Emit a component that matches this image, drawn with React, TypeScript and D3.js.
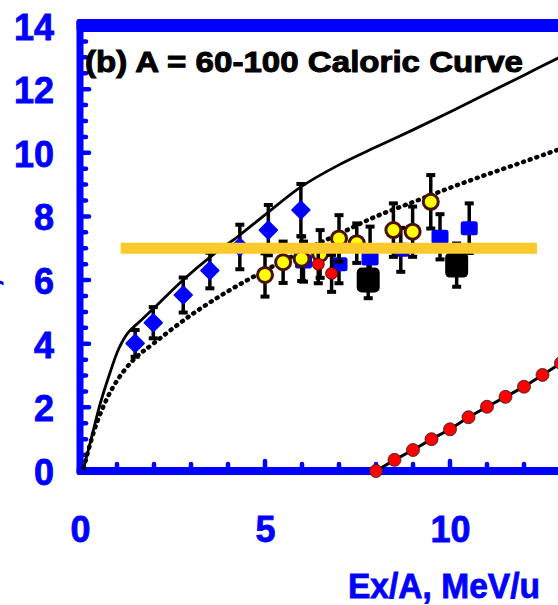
import React from 'react';
import * as d3 from 'd3';

// ---------- data ----------
const yTickValues = [0, 2, 4, 6, 8, 10, 12, 14];
const xTickValues = [0, 5, 10];
const titleText = '(b)  A = 60-100 Caloric Curve';
const xAxisTitle = 'Ex/A, MeV/u';
const yAxisTitle = 'T, MeV';

// solid model curve
const solidX = [0.1, 0.3, 0.55, 0.8, 1.05, 1.3, 1.6, 2, 2.8, 3.6, 4.3, 5, 6, 7, 8, 9, 10, 11, 12, 13];
const solidY = [0.1, 1.0, 2.13, 3.05, 3.85, 4.35, 4.68, 5.12, 6.02, 6.8, 7.4, 8.05, 8.95, 9.62, 10.18, 10.72, 11.28, 11.86, 12.44, 13.02];

// dotted model curve
const dottedX = [0.1, 0.45, 0.9, 1.44, 2, 3, 4, 5, 6, 7, 8, 9, 10, 11, 12, 13];
const dottedY = [0.1, 1.5, 2.65, 3.49, 4.02, 4.9, 5.65, 6.3, 6.9, 7.45, 8.0, 8.45, 8.9, 9.32, 9.72, 10.13];

// red points on a line
const redLineX = [8, 8.5, 9, 9.5, 10, 10.5, 11, 11.5, 12, 12.5, 13];
const redLineY = [0, 0.35, 0.66, 1.0, 1.31, 1.69, 2.02, 2.33, 2.65, 3.02, 3.39];

// blue diamonds
const diamondX = [1.49, 1.98, 2.79, 3.51, 4.32, 5.09, 5.97];
const diamondY = [4.01, 4.66, 5.53, 6.3, 7.04, 7.57, 8.2];
const diamondErr = [0.42, 0.49, 0.55, 0.56, 0.7, 0.79, 0.82];

// yellow circles
const yellowX = [5.0, 5.49, 5.99, 6.49, 7.0, 7.48, 8.47, 8.99, 9.48];
const yellowY = [6.16, 6.56, 6.67, 6.82, 7.31, 7.16, 7.57, 7.52, 8.46];
const yellowErr = [0.68, 0.65, 0.7, 0.75, 0.73, 0.62, 0.84, 0.79, 0.84];

// blue squares
const blueSqX = [6.04, 7.0, 7.84, 8.67, 9.73, 10.52];
const blueSqY = [6.58, 6.5, 6.68, 6.95, 7.36, 7.63];
const blueSqErr = [0.63, 0.6, 1.0, 0.69, 0.71, 0.78];

// black squares
const blackSqX = [7.79, 10.18];
const blackSqY = [6.0, 6.47];
const blackSqErr = [0.57, 0.68];

// red points with error bars
const redPtX = [6.44, 6.8];
const redPtY = [6.5, 6.21];
const redPtErr = [0.6, 0.58];

// horizontal band
const bandX = [1.1, 12.35];
const bandY = [7, 7];

// ---------- chart ----------
const W = 558;
const H = 605;
const FONT = 'Liberation Sans, Arial, Helvetica, sans-serif';
const BLUE = '#0000FF';

export default function App() {
  const x = d3.scaleLinear().domain([0, 13]).range([80, 561]);
  const y = d3.scaleLinear().domain([0, 14]).range([471, 25.5]);

  const line = d3
    .line<[number, number]>()
    .x((d) => x(d[0]))
    .y((d) => y(d[1]))
    .curve(d3.curveCatmullRom.alpha(0.5));
  const straight = d3
    .line<[number, number]>()
    .x((d) => x(d[0]))
    .y((d) => y(d[1]));

  const solidPath = line(solidX.map((v, i) => [v, solidY[i]]) as [number, number][]) || '';
  const dottedPath = line(dottedX.map((v, i) => [v, dottedY[i]]) as [number, number][]) || '';
  const redPath = straight(redLineX.map((v, i) => [v, redLineY[i]]) as [number, number][]) || '';
  const bandPath = straight(bandX.map((v, i) => [v, bandY[i]]) as [number, number][]) || '';

  const x0 = x(0);
  const y0 = y(0);
  const yTop = y(14);

  const minorY = d3.range(0.5, 14, 0.5);
  const minorX = d3.range(1, 14, 1);

  const errBar = (xs: number[], ys: number[], es: number[], key: string) =>
    xs.map((xv, i) => {
      const cx = x(xv);
      const t = y(ys[i] + es[i]);
      const b = y(ys[i] - es[i]);
      return (
        <g key={key + i}>
          <line x1={cx} x2={cx} y1={t} y2={b} stroke="#000" strokeWidth={3.5} />
          <line x1={cx - 4.5} x2={cx + 4.5} y1={t} y2={t} stroke="#000" strokeWidth={4} />
          <line x1={cx - 4.5} x2={cx + 4.5} y1={b} y2={b} stroke="#000" strokeWidth={4} />
        </g>
      );
    });

  return (
    <svg
      width={W}
      height={H}
      viewBox={`0 0 ${W} ${H}`}
      style={{ position: 'absolute', left: 0, top: 0, background: '#fff' }}
    >
      <rect x={0} y={0} width={W} height={H} fill="#fff" />

      {/* frame */}
      <rect x={x0 - 3.5} y={yTop - 6.5} width={W} height={13} fill={BLUE} rx={3} />
      <rect x={x0 - 3.5} y={yTop - 6.5} width={7} height={y0 - yTop + 10.5} fill={BLUE} rx={3} />
      <rect x={x0 - 3.5} y={y0 - 4} width={W} height={8} fill={BLUE} rx={3} />

      {/* y ticks */}
      {minorY.map((v) => {
        const major = v % 2 === 0;
        return (
          <line
            key={'yt' + v}
            x1={x0 + 3.5}
            x2={x0 + (major ? 9 : 6)}
            y1={y(v)}
            y2={y(v)}
            stroke={BLUE}
            strokeWidth={4.5}
            strokeLinecap="round"
          />
        );
      })}
      {/* x ticks */}
      {minorX.map((v) => {
        const major = v % 5 === 0;
        return (
          <line
            key={'xt' + v}
            x1={x(v)}
            x2={x(v)}
            y1={y0 - 4}
            y2={y0 - (major ? 10 : 7)}
            stroke={BLUE}
            strokeWidth={4.5}
            strokeLinecap="round"
          />
        );
      })}

      {/* tick labels */}
      {yTickValues.map((v) => (
        <text
          key={'yl' + v}
          x={54}
          y={y(v) + 14}
          textAnchor="end"
          fontFamily={FONT}
          fontWeight="bold"
          fontSize={36}
          fill={BLUE}
          stroke={BLUE}
          strokeWidth={0.8}
        >
          {v}
        </text>
      ))}
      {xTickValues.map((v) => (
        <text
          key={'xl' + v}
          x={x(v) + 0.5}
          y={542}
          textAnchor="middle"
          fontFamily={FONT}
          fontWeight="bold"
          fontSize={36}
          fill={BLUE}
          stroke={BLUE}
          strokeWidth={0.8}
        >
          {v}
        </text>
      ))}

      {/* axis titles */}
      <text
        x={348}
        y={598}
        fontFamily={FONT}
        fontWeight="bold"
        fontSize={35}
        fill={BLUE}
        stroke={BLUE}
        strokeWidth={0.8}
        textLength={192}
        lengthAdjust="spacingAndGlyphs"
      >
        {xAxisTitle}
      </text>
      <text transform="translate(-2,306) rotate(-90)" fontFamily={FONT} fontWeight="bold" fontSize={36} fill={BLUE}>
        {yAxisTitle}
      </text>

      {/* title */}
      <text
        x={85}
        y={72}
        fontFamily={FONT}
        fontWeight="bold"
        fontSize={30}
        fill="#000"
        stroke="#000"
        strokeWidth={1}
        textLength={438}
        lengthAdjust="spacingAndGlyphs"
      >
        {titleText}
      </text>

      {/* model curves */}
      <path d={solidPath} fill="none" stroke="#000" strokeWidth={2.8} />
      <path d={dottedPath} fill="none" stroke="#000" strokeWidth={4.5} strokeDasharray="1 6" strokeLinecap="round" />

      {/* red line */}
      <path d={redPath} fill="none" stroke="#000" strokeWidth={3} />
      {redLineX.map((v, i) => (
        <circle key={'rl' + i} cx={x(v)} cy={y(redLineY[i])} r={6.5} fill="#FF0000" stroke="#222" strokeWidth={0.8} />
      ))}

      {/* black squares */}
      {errBar(blackSqX, blackSqY, blackSqErr, 'bke')}
      {blackSqX.map((v, i) => (
        <rect key={'bk' + i} x={x(v) - 11.5} y={y(blackSqY[i]) - 12.5} width={23} height={25} rx={5} fill="#000" />
      ))}

      {/* blue squares */}
      {errBar(blueSqX, blueSqY, blueSqErr, 'bse')}
      {blueSqX.map((v, i) => (
        <rect key={'bs' + i} x={x(v) - 8.5} y={y(blueSqY[i]) - 7} width={17} height={14} rx={2.5} fill="#0000FF" />
      ))}

      {/* yellow circles */}
      {errBar(yellowX, yellowY, yellowErr, 'ye')}
      {yellowX.map((v, i) => (
        <circle key={'y' + i} cx={x(v)} cy={y(yellowY[i])} r={7.5} fill="#FFFF00" stroke="#4A1200" strokeWidth={3} />
      ))}

      {/* red points */}
      {errBar(redPtX, redPtY, redPtErr, 're')}
      {redPtX.map((v, i) => (
        <circle key={'rp' + i} cx={x(v)} cy={y(redPtY[i])} r={6} fill="#FF0000" stroke="#300" strokeWidth={0.8} />
      ))}

      {/* blue diamonds */}
      {errBar(diamondX, diamondY, diamondErr, 'de')}
      {diamondX.map((v, i) => (
        <path
          key={'d' + i}
          transform={`translate(${x(v)},${y(diamondY[i])})`}
          d="M0,-9 L9,0 L0,9 L-9,0 Z"
          fill="#0000FF"
          stroke="#0000FF"
          strokeWidth={1.5}
          strokeLinejoin="round"
        />
      ))}

      {/* band */}
      <path d={bandPath} fill="none" stroke="#FCC92B" strokeWidth={11} />
    </svg>
  );
}
